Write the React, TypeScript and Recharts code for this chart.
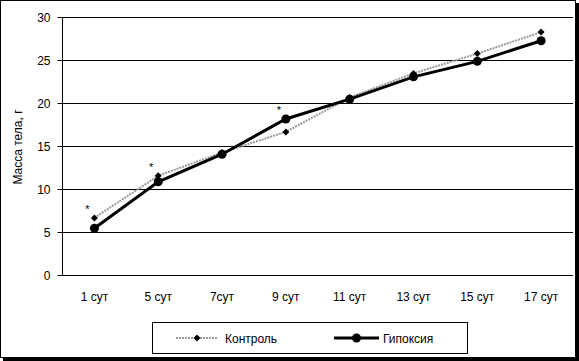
import React from "react";
import { LineChart, Line, XAxis, YAxis, CartesianGrid, Legend, LabelList } from "recharts";

const categories = ["1 сут", "5 сут", "7сут", "9 сут", "11 сут", "13 сут", "15 сут", "17 сут"];
const control = [6.7, 11.6, 14.3, 16.7, 20.7, 23.5, 25.8, 28.3];
const hypoxia = [5.5, 10.9, 14.1, 18.2, 20.5, 23.1, 24.9, 27.3];
const significance = ["*", "*", "", "*", "", "", "", ""];
const yTicks = [0, 5, 10, 15, 20, 25, 30];
const boundaries = [0, 1, 2, 3, 4, 5, 6, 7, 8];

const data = categories.map((c, i) => ({
  pos: i + 0.5,
  name: c,
  control: control[i],
  hypoxia: hypoxia[i],
}));

const FONT = "'Liberation Sans', Arial, sans-serif";

const Diamond = (props: any) => {
  const { cx, cy } = props;
  if (cx == null || cy == null) return null;
  const r = 3.5;
  return <polygon points={`${cx},${cy - r} ${cx + r},${cy} ${cx},${cy + r} ${cx - r},${cy}`} fill="#000" />;
};

const Circle = (props: any) => {
  const { cx, cy } = props;
  if (cx == null || cy == null) return null;
  return <circle cx={cx} cy={cy} r={4.5} fill="#000" />;
};

const makeStar = (own: number[], other: number[]) => (props: any) => {
  const { x, y, index } = props;
  if (!significance[index]) return null;
  if (own[index] < other[index]) return null;
  return (
    <text x={x - 7} y={y - 5} fontSize={11} fontFamily={FONT} textAnchor="middle" fill="#000">
      {significance[index]}
    </text>
  );
};

const LegendBox = () => (
  <div
    style={{
      width: 314,
      height: 30,
      border: "1px solid #000",
      background: "#fff",
      position: "relative",
      fontFamily: FONT,
      fontSize: 12,
    }}
  >
    <svg width={314} height={30} style={{ position: "absolute", left: 0, top: 0 }}>
      <line x1={23} y1={15} x2={65} y2={15} stroke="#999" strokeWidth={2} strokeDasharray="2 1" />
      <polygon points="44,11.5 47.5,15 44,18.5 40.5,15" fill="#000" />
      <text x={72} y={19.5} fontSize={12} fontFamily={FONT} fill="#000">Контроль</text>
      <line x1={181} y1={15} x2={226} y2={15} stroke="#000" strokeWidth={3} />
      <circle cx={203.5} cy={15} r={4.5} fill="#000" />
      <text x={230} y={19.5} fontSize={12} fontFamily={FONT} fill="#000">Гипоксия</text>
    </svg>
  </div>
);

const YLabel = () => (
  <text
    x={21}
    y={146}
    transform="rotate(-90 21 146)"
    textAnchor="middle"
    fontSize={12}
    fontFamily={FONT}
    fill="#000"
  >
    Масса тела, г
  </text>
);

export default function App() {
  return (
    <div
      style={{
        position: "absolute",
        left: 0,
        top: 0,
        width: 574,
        height: 356,
        border: "1px solid #000",
        boxShadow: "3px 3px 0 #000",
        background: "#fff",
      }}
    >
      <LineChart
        width={574}
        height={356}
        data={data}
        margin={{ top: 16.5, right: 2, left: 0, bottom: 19.5 }}
        style={{ fontFamily: FONT }}
      >
        <CartesianGrid horizontal vertical={false} stroke="#000" strokeOpacity={1} />
        <XAxis
          xAxisId="b"
          type="number"
          dataKey="pos"
          domain={[0, 8]}
          ticks={boundaries}
          tick={false}
          height={0}
          tickSize={5}
          axisLine={{ stroke: "#000" }}
          tickLine={{ stroke: "#000" }}
        />
        <XAxis
          xAxisId="cat"
          type="number"
          dataKey="pos"
          domain={[0, 8]}
          ticks={data.map((d) => d.pos)}
          tickFormatter={(v: number) => categories[Math.floor(v)]}
          height={30}
          axisLine={false}
          tickLine={false}
          tickSize={0}
          tickMargin={17}
          interval={0}
          tick={{ fill: "#000", fontSize: 12, fontFamily: FONT }}
        />
        <YAxis
          type="number"
          domain={[0, 30]}
          ticks={yTicks}
          width={61.5}
          tickSize={5}
          tickMargin={7}
          axisLine={{ stroke: "#000" }}
          tickLine={{ stroke: "#000" }}
          tick={{ fill: "#000", fontSize: 12, fontFamily: FONT }}
          label={<YLabel />}
        />
        <Legend
          verticalAlign="bottom"
          content={<LegendBox />}
          wrapperStyle={{ left: 151, top: 321, width: 316, height: 32, bottom: "auto" }}
        />
        <Line
          xAxisId="cat"
          dataKey="control"
          name="Контроль"
          stroke="#999"
          strokeWidth={2}
          strokeDasharray="2 1"
          dot={<Diamond />}
          activeDot={false}
          isAnimationActive={false}
        >
          <LabelList dataKey="control" content={makeStar(control, hypoxia)} />
        </Line>
        <Line
          xAxisId="cat"
          dataKey="hypoxia"
          name="Гипоксия"
          stroke="#000"
          strokeWidth={3}
          dot={<Circle />}
          activeDot={false}
          isAnimationActive={false}
        >
          <LabelList dataKey="hypoxia" content={makeStar(hypoxia, control)} />
        </Line>
      </LineChart>
    </div>
  );
}
